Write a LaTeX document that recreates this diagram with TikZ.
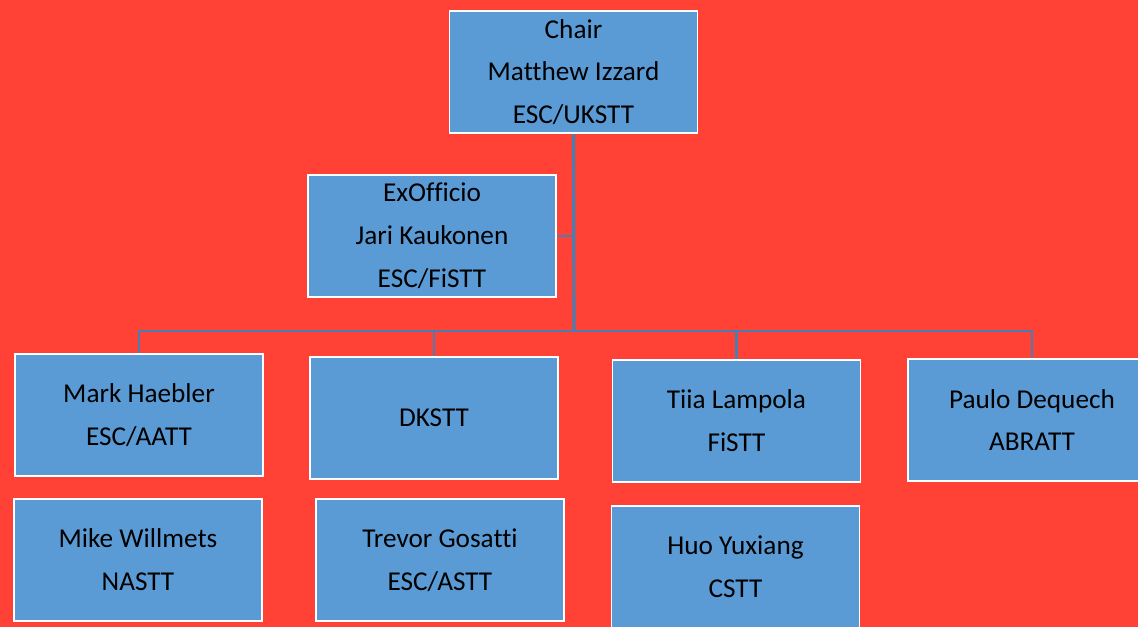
\documentclass[tikz,border=0pt]{standalone}
\usepackage{fontspec}
\setmainfont{Carlito}[Ligatures=NoCommon]
\usepackage{xcolor}
\usetikzlibrary{positioning}
\definecolor{bgred}{HTML}{FF4136}
\definecolor{boxblue}{HTML}{5B9BD5}
\definecolor{linkblue}{HTML}{4A7DB0}

\begin{document}
\begin{tikzpicture}[x=0.02cm,y=-0.02cm,
  member/.style={draw=white,line width=1pt,fill=boxblue,minimum width=4.96cm,
    minimum height=2.45cm,inner sep=0pt,align=center,
    font=\fontsize{15.5}{24.4}\selectfont},
  link/.style={draw=linkblue,line width=1.4pt}]
  % page
  \useasboundingbox (0,0) rectangle (1138,627);
  \fill[bgred] (0,0) rectangle (1138,627);
  \clip (0,0) rectangle (1138,627);
  % top nodes
  \node[member] at(573.5,72)(chair){Chair\\Matthew Izzard\\ESC/UKSTT};
  \node[member] at(432,236)(exo){ExOfficio\\Jari Kaukonen\\ESC/FiSTT};
  % member nodes
  \node[member] at(139,415)(mark){Mark Haebler\\ESC/AATT};
  \node[member] at(434,418)(dk){DKSTT};
  \node[member] at(736.5,421)(tiia){Tiia Lampola\\FiSTT};
  \node[member] at(1032,420)(paulo){Paulo Dequech\\ABRATT};
  \node[member] at(138,560)(mike){Mike Willmets\\NASTT};
  \node[member] at(440,560)(trevor){Trevor Gosatti\\ESC/ASTT};
  \node[member] at(735.5,567)(huo){Huo Yuxiang\\CSTT};
  % connectors
  \coordinate (bus) at (574,331);
  \draw[link,line width=1.8pt] (chair.south) -- (bus);
  \draw[link] (exo.east) -- (exo.east -| bus);
  \draw[link] (bus) -| (mark.north);
  \draw[link] (bus) -| (dk.north);
  \draw[link] (bus) -| (tiia.north);
  \draw[link] (bus) -| (paulo.north);
\end{tikzpicture}
\end{document}
